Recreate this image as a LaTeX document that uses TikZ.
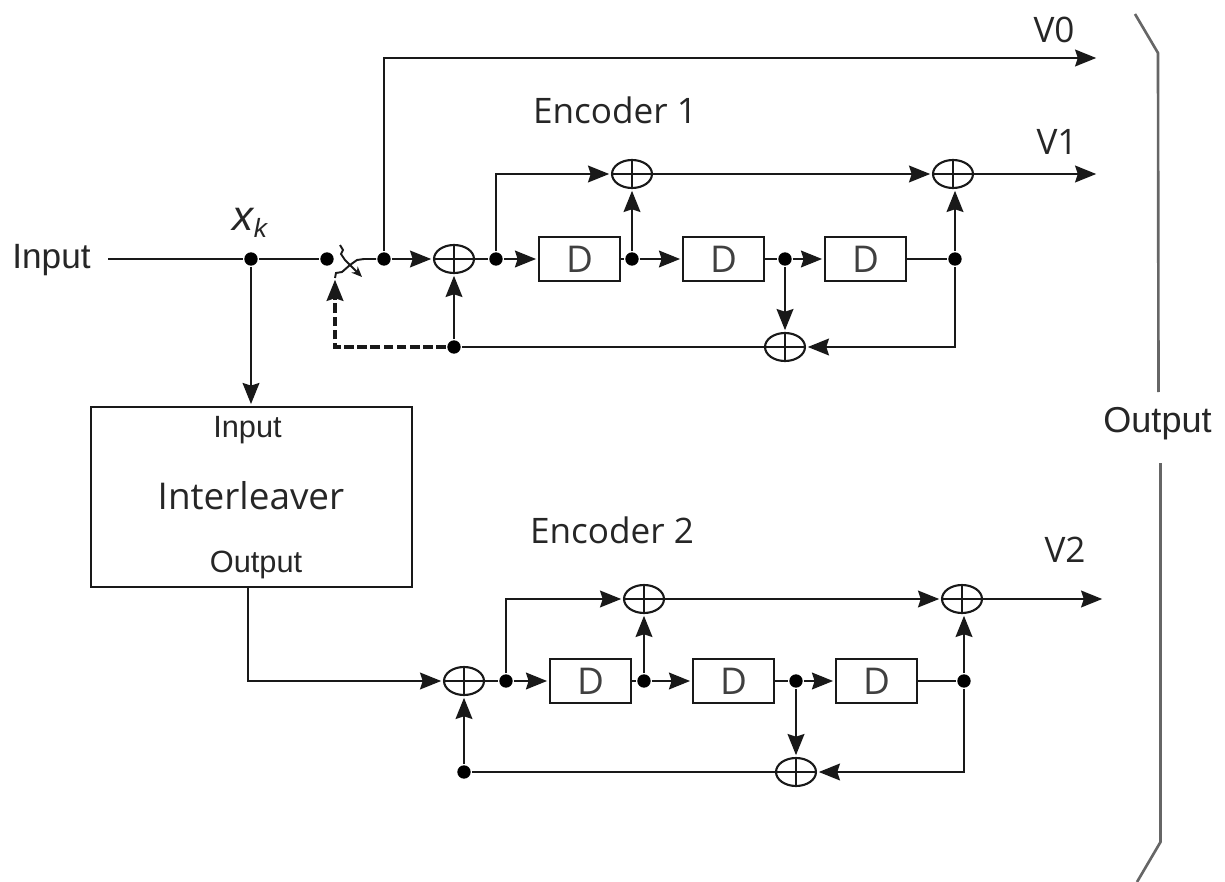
\documentclass[tikz,border=0pt]{standalone}
\usepackage{fontspec}
\setmainfont{Liberation Sans}
\newfontfamily\labelfont{Open Sans}
\usetikzlibrary{shapes.geometric,arrows.meta}

\def\boxw{1.62cm}
\def\boxh{0.88cm}

\begin{document}
\begin{tikzpicture}[x=0.02cm,y=-0.02cm,line width=1.5pt,draw=black!90]
    \tikzstyle{delay}=[rectangle,draw=black!90,line width=1.3pt,minimum width=\boxw,minimum height=\boxh,inner sep=0pt,font=\fontsize{21}{24}\labelfont,text=black!75]
    \tikzstyle{dot}=[circle,fill=black,draw=none,minimum size=7.6pt,inner sep=0pt]
    \tikzstyle{xor}=[ellipse,draw=black!90,line width=1.2pt,minimum width=0.8cm,minimum height=0.56cm,inner sep=0pt,fill=white,
        path picture={\draw[line width=1pt] (path picture bounding box.north) -- (path picture bounding box.south)
            (path picture bounding box.west) -- (path picture bounding box.east);}]
    \tikzstyle{arr}=[-{Stealth[length=12pt,width=9.5pt,inset=1.5pt]},shorten >=1pt]
    \tikzstyle{annot}=[inner sep=0pt,font=\fontsize{20}{24}\selectfont,text=black!85]
    \tikzstyle{small}=[inner sep=0pt,font=\fontsize{17.5}{22}\selectfont,text=black!85]
    \tikzstyle{enc}=[inner sep=0pt,font=\fontsize{20}{24}\labelfont,text=black!85]

    \useasboundingbox (0,0) rectangle (1225,882);

    % delay boxes
    \foreach \name / \x in {1/579.5,2/723.5,3/865.5}
        \node[delay] (D1-\name) at (\x,259) {D};
    \foreach \name / \x in {1/590.5,2/733.5,3/876.5}
        \node[delay] (D2-\name) at (\x,681) {D};

    % junctions
    \foreach \name / \x / \y in {xk/251/259,sw/327/259,top/384/259,a1/496/259,a2/632/259,a3/785/259,a4/955/259,fb/454/347,
        b1/506/681,b2/644/681,b3/796/681,b4/964/681,gb/464/772}
        \node[dot] (J-\name) at (\x,\y) {};

    % adders
    \foreach \name / \x / \y in {in1/454/259,t1/632/174,t2/953/174,f1/785/347,in2/464/681,t3/644/599,t4/962/599,f2/796/772}
        \node[xor] (X-\name) at (\x,\y) {};

    % labels
    \node[annot] (input) at (51.5,260) {Input};
    \node[inner sep=0pt,text=black!85] (xk) at (250,223) {\fontsize{24}{26}\selectfont\itshape x\raisebox{-4pt}{\fontsize{15}{16}\selectfont k}};
    \node[rectangle,draw=black!90,line width=1.3pt,minimum width=6.42cm,minimum height=3.6cm] (inter) at (251.5,497) {};
    \node[small] (inter-in) at (247.5,430) {Input};
    \node[enc,font=\fontsize{21}{24}\labelfont] (inter-name) at (251,496) {Interleaver};
    \node[small] (inter-out) at (256,565) {Output};
    \node[enc] (enc1) at (615,110) {Encoder 1};
    \node[enc] (enc2) at (612,530) {Encoder 2};
    \node[enc] (v0) at (1054,30) {V0};
    \node[enc] (v1) at (1057,142) {V1};
    \node[enc] (v2) at (1065,550) {V2};
    \node[annot,font=\fontsize{20.5}{24}\selectfont] (output) at (1157.5,424) {Output};

    % free ends
    \coordinate (in-start) at (108,259);
    \coordinate (v0-end) at (1098,58);
    \coordinate (v1-end) at (1098,174);
    \coordinate (v2-end) at (1104,599);
    \coordinate (inter-s) at (248,587);
    \coordinate (sw-b) at (350,265);
    \coordinate (sw-c) at (335,278);
    \coordinate (sw-d) at (362,277);
    \coordinate (sw-e) at (364,259);
    \coordinate (dash-c) at (335,347);

    % encoder 1
    \draw (in-start) -- (J-xk) -- (J-sw);
    \draw[arr] (J-xk) -- (inter.north -| J-xk);
    \draw[line width=1.1pt] (340,245) -- (343,250) -- (341,254) -- (345,260) -- (sw-b);
    \draw[line width=1.1pt,-{Stealth[length=6pt,width=5pt]}] (sw-b) -- (sw-d);
    \draw[line width=1.1pt] (sw-c) -- (336,273) -- (342,272) -- (sw-b) -- (357,260) -- (sw-e) -- (J-top);
    \draw[arr] (J-top) |- (v0-end);
    \draw[arr] (J-top) -- (X-in1);
    \draw (X-in1) -- (J-a1);
    \draw[arr] (J-a1) -- (D1-1);
    \draw[arr] (J-a1) |- (X-t1);
    \draw (D1-1) -- (J-a2);
    \draw[arr] (J-a2) -- (X-t1);
    \draw[arr] (J-a2) -- (D1-2);
    \draw (D1-2) -- (J-a3);
    \draw[arr] (J-a3) -- (D1-3);
    \draw[arr] (J-a3) -- (X-f1);
    \draw (D1-3) -- (J-a4);
    \draw[arr] (J-a4) -- (J-a4 |- X-t2.south);
    \draw[arr] (X-t1) -- (X-t2);
    \draw[arr] (X-t2) -- (v1-end);
    \draw[arr] (J-a4) |- (X-f1);
    \draw (X-f1) -- (J-fb);
    \draw[arr] (J-fb) -- (X-in1);
    \draw[arr,line width=1.8pt,dash pattern=on 5.5pt off 2pt] (J-fb) -- (dash-c) -- (sw-c);

    % encoder 2
    \draw[arr] (inter-s) |- (X-in2);
    \draw (X-in2) -- (J-b1);
    \draw[arr] (J-b1) -- (D2-1);
    \draw[arr] (J-b1) |- (X-t3);
    \draw (D2-1) -- (J-b2);
    \draw[arr] (J-b2) -- (X-t3);
    \draw[arr] (J-b2) -- (D2-2);
    \draw (D2-2) -- (J-b3);
    \draw[arr] (J-b3) -- (D2-3);
    \draw[arr] (J-b3) -- (X-f2);
    \draw (D2-3) -- (J-b4);
    \draw[arr] (J-b4) -- (J-b4 |- X-t4.south);
    \draw[arr] (X-t3) -- (X-t4);
    \draw[arr] (X-t4) -- (v2-end);
    \draw[arr] (J-b4) |- (X-f2);
    \draw (X-f2) -- (J-gb);
    \draw[arr] (J-gb) -- (X-in2);

    % output bracket
    \draw[draw=black!60] (1135,14) -- (1158,53) -- (1158.5,392);
    \draw[draw=black!60] (1160.5,463) -- (1160.5,842) -- (1137,882);
\end{tikzpicture}
\end{document}
